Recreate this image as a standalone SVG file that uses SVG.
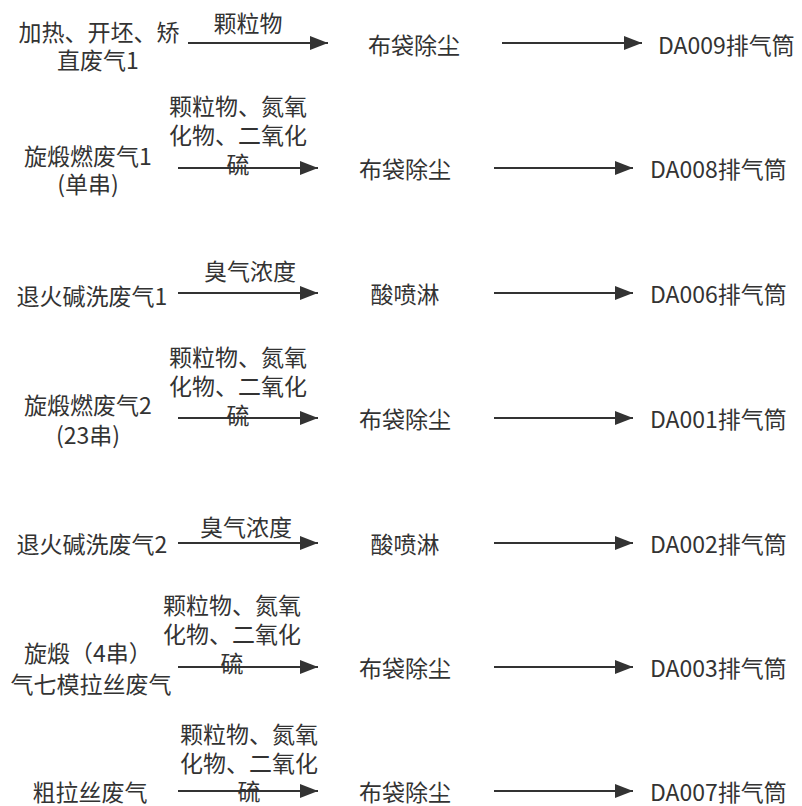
<svg xmlns="http://www.w3.org/2000/svg" width="802" height="806" viewBox="0 0 802 806">
<style>
text{font-family:"Noto Sans CJK SC","Noto Sans",sans-serif;font-size:23px;fill:#333;text-anchor:middle;dominant-baseline:central}
text.s{text-anchor:start}
.c line{stroke:#333;stroke-width:2;fill:none;marker-end:url(#ah)}
</style>
<defs>
<marker id="ah" markerUnits="userSpaceOnUse" markerWidth="18" markerHeight="14" refX="18" refY="7" orient="auto">
<path d="M0,0 L18,7 L0,14 Z" fill="#333"/>
</marker>
</defs>
<rect width="802" height="806" fill="#fff"/>
<g class="c" id="connectors">
<line x1="188" y1="43" x2="328" y2="43"/>
<line x1="502" y1="43" x2="642" y2="43"/>
<line x1="178" y1="168" x2="318" y2="168"/>
<line x1="494" y1="168" x2="633" y2="168"/>
<line x1="178" y1="293" x2="318" y2="293"/>
<line x1="494" y1="293" x2="633" y2="293"/>
<line x1="178" y1="418" x2="318" y2="418"/>
<line x1="494" y1="418" x2="633" y2="418"/>
<line x1="178" y1="543" x2="318" y2="543"/>
<line x1="494" y1="543" x2="633" y2="543"/>
<line x1="178" y1="667" x2="318" y2="667"/>
<line x1="494" y1="667" x2="633" y2="667"/>
<line x1="178" y1="791" x2="318" y2="791"/>
<line x1="494" y1="791" x2="633" y2="791"/>
</g>
<g id="labels">
<text x="248" y="22">颗粒物</text>
<text x="238" y="105">颗粒物、氮氧</text><text x="238" y="134">化物、二氧化</text><text x="238" y="163">硫</text>
<text x="250" y="270">臭气浓度</text>
<text x="238" y="356">颗粒物、氮氧</text><text x="238" y="385">化物、二氧化</text><text x="238" y="414">硫</text>
<text x="246" y="526">臭气浓度</text>
<text x="232" y="604">颗粒物、氮氧</text><text x="232" y="633">化物、二氧化</text><text x="232" y="662">硫</text>
<text x="249" y="733">颗粒物、氮氧</text><text x="249" y="762">化物、二氧化</text><text x="249" y="790">硫</text>
</g>
<g id="src1"><text x="99" y="31">加热、开坯、矫</text><text x="98" y="59">直废气1</text></g>
<g id="src2"><text x="88" y="155">旋煅燃废气1</text><text x="88" y="183">(单串)</text></g>
<g id="src3"><text x="92" y="295">退火碱洗废气1</text></g>
<g id="src4"><text x="88" y="404">旋煅燃废气2</text><text x="88" y="434">(23串)</text></g>
<g id="src5"><text x="92" y="543">退火碱洗废气2</text></g>
<g id="src6"><text x="88" y="652">旋煅（4串）</text><text x="91" y="683">气七模拉丝废气</text></g>
<g id="src7"><text x="90" y="791">粗拉丝废气</text></g>
<g id="t1"><text x="414" y="44">布袋除尘</text></g>
<g id="t2"><text x="405" y="168">布袋除尘</text></g>
<g id="t3"><text x="405" y="293">酸喷淋</text></g>
<g id="t4"><text x="405" y="418">布袋除尘</text></g>
<g id="t5"><text x="405" y="543">酸喷淋</text></g>
<g id="t6"><text x="405" y="667">布袋除尘</text></g>
<g id="t7"><text x="405" y="791">布袋除尘</text></g>
<g id="o1"><text class="s" x="658" y="44">DA009排气筒</text></g>
<g id="o2"><text class="s" x="650" y="168">DA008排气筒</text></g>
<g id="o3"><text class="s" x="650" y="293">DA006排气筒</text></g>
<g id="o4"><text class="s" x="650" y="418">DA001排气筒</text></g>
<g id="o5"><text class="s" x="650" y="543">DA002排气筒</text></g>
<g id="o6"><text class="s" x="650" y="667">DA003排气筒</text></g>
<g id="o7"><text class="s" x="650" y="791">DA007排气筒</text></g>
</svg>
